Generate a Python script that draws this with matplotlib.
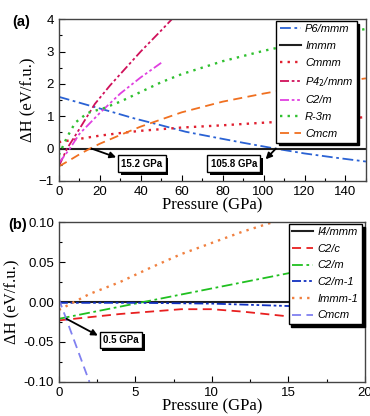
import matplotlib
matplotlib.use("Agg")
import matplotlib.pyplot as plt
from matplotlib.ticker import MultipleLocator
import matplotlib.patheffects as pe

plt.rcParams['font.family'] = ['Liberation Sans', 'DejaVu Sans']
plt.rcParams['mathtext.default'] = 'it'

# ---- panel (a) data ----
p_p6 = [0, 12.7, 25, 37, 50, 62, 75, 90, 105.8, 120, 135, 150]
h_p6 = [1.6, 1.37, 1.15, 0.93, 0.72, 0.52, 0.36, 0.18, 0.0, -0.15, -0.28, -0.4]
p_immm = [0, 150]
h_immm = [0, 0]
p_cmmm = [0, 10, 20, 30, 40, 50, 60, 80, 100, 120, 150]
h_cmmm = [0.2, 0.3, 0.4, 0.48, 0.55, 0.6, 0.65, 0.72, 0.8, 0.87, 0.97]
p_p42 = [0, 4, 10, 17.6, 25, 30, 40, 50, 56]
h_p42 = [-0.55, 0, 0.6, 1.38, 1.95, 2.3, 3.0, 3.65, 4.05]
p_c2m = [0, 5.4, 10, 20, 30, 40, 50]
h_c2m = [-0.45, 0, 0.45, 1.1, 1.7, 2.2, 2.65]
p_r3m = [0, 4, 8, 14, 22, 30, 40, 50, 60, 80, 100, 120, 150]
h_r3m = [-0.2, 0.35, 0.8, 1.1, 1.25, 1.45, 1.75, 2.05, 2.3, 2.7, 3.02, 3.3, 3.7]
p_cmcm = [0, 5, 10, 15.2, 20, 30, 40, 60, 80, 100, 120, 150]
h_cmcm = [-0.55, -0.37, -0.18, 0, 0.15, 0.42, 0.68, 1.12, 1.45, 1.7, 1.93, 2.17]

# ---- panel (b) data ----
q_i4 = [0, 20]
g_i4 = [0, 0]
q_c2c = [0, 2, 4, 6, 8, 10, 12, 14, 16, 18, 20]
g_c2c = [-0.023, -0.019, -0.015, -0.012, -0.009, -0.009, -0.012, -0.016, -0.02, -0.024, -0.027]
q_c2m = [0, 5, 10, 15, 20]
g_c2m = [-0.021, -0.002, 0.017, 0.036, 0.055]
q_c2m1 = [0, 5, 10, 15, 20]
g_c2m1 = [-0.001, -0.001, -0.002, -0.005, -0.007]
q_immm1 = [0, 1, 2, 4, 6, 8, 10, 12, 14, 16]
g_immm1 = [-0.01, 0.0, 0.01, 0.025, 0.043, 0.06, 0.074, 0.088, 0.1, 0.112]
q_cmcm = [0, 1, 2]
g_cmcm = [0.004, -0.048, -0.1]

dashdot = (0, (6, 2, 1.5, 2))
dashdotdot = (0, (5, 1.5, 1.5, 1.5, 1.5, 1.5))
dotted = (0, (1, 2.2))
dashed = (0, (5, 3))

fig = plt.figure(figsize=(3.7, 4.16), dpi=100)
ax1 = fig.add_axes([0.159, 0.565, 0.83, 0.389])
ax2 = fig.add_axes([0.159, 0.082, 0.827, 0.384])

lw = 1.3
ax1.plot(p_p6, h_p6, color='#2a62d4', ls=dashdot, lw=lw, label='P6/mmm')
ax1.plot(p_immm, h_immm, color='#202020', ls='-', lw=1.5, label='Immm')
ax1.plot(p_cmmm, h_cmmm, color='#e02030', ls=dotted, lw=1.7, label='Cmmm')
ax1.plot(p_p42, h_p42, color='#d0105a', ls=dashdotdot, lw=lw, label='P4$_2$/mnm')
ax1.plot(p_c2m, h_c2m, color='#e040e0', ls=dashdotdot, lw=lw, label='C2/m')
ax1.plot(p_r3m, h_r3m, color='#30c030', ls=dotted, lw=1.7, label='R-3m')
ax1.plot(p_cmcm, h_cmcm, color='#f07020', ls=dashed, lw=lw, label='Cmcm')

ax2.plot(q_i4, g_i4, color='#202020', ls='-', lw=1.5, label='I4/mmm')
ax2.plot(q_c2c, g_c2c, color='#e82020', ls=dashed, lw=lw, label='C2/c')
ax2.plot(q_c2m, g_c2m, color='#20c020', ls=dashdot, lw=lw, label='C2/m')
ax2.plot(q_c2m1, g_c2m1, color='#1030c0', ls=dashdotdot, lw=lw, label='C2/m-1')
ax2.plot(q_immm1, g_immm1, color='#f08040', ls=dotted, lw=1.7, label='Immm-1')
ax2.plot(q_cmcm, g_cmcm, color='#8080f0', ls=dashed, lw=lw, label='Cmcm')

ax1.set_xlim(0, 150)
ax1.set_ylim(-1, 4)
ax1.xaxis.set_major_locator(MultipleLocator(20))
ax1.xaxis.set_minor_locator(MultipleLocator(10))
ax1.yaxis.set_major_locator(MultipleLocator(1))
ax1.yaxis.set_minor_locator(MultipleLocator(0.5))

ax2.set_xlim(0, 20)
ax2.set_ylim(-0.1, 0.1)
ax2.xaxis.set_major_locator(MultipleLocator(5))
ax2.xaxis.set_minor_locator(MultipleLocator(2.5))
ax2.yaxis.set_major_locator(MultipleLocator(0.05))
ax2.yaxis.set_minor_locator(MultipleLocator(0.025))
ax2.yaxis.set_major_formatter(plt.FormatStrFormatter('%.2f'))

for ax in (ax1, ax2):
    ax.tick_params(which='both', direction='in', labelsize=9.5, width=0.8)
    ax.tick_params(which='major', length=4)
    ax.tick_params(which='minor', length=2.5)
    for s in ax.spines.values():
        s.set_linewidth(1.0)
        s.set_color('#444444')
    ax.set_xlabel('Pressure (GPa)', family='Liberation Serif', fontsize=12, labelpad=0)
    ax.set_ylabel('ΔH (eV/f.u.)', family='Liberation Serif', fontsize=12, labelpad=2)

leg_kw = dict(prop={'style': 'italic', 'size': 8}, frameon=True, fancybox=False,
              edgecolor='black', framealpha=1, shadow={'color': 'black', 'alpha': 1.0},
              handlelength=1.9, borderpad=0.3, handletextpad=0.4, borderaxespad=0)
leg1 = ax1.legend(loc='upper right', bbox_to_anchor=(0.97, 0.99), labelspacing=0.62, **leg_kw)
leg2 = ax2.legend(loc='upper right', bbox_to_anchor=(0.99, 0.99), labelspacing=0.6, **leg_kw)

shadow = [pe.withSimplePatchShadow(offset=(2, -2), shadow_rgbFace='black', alpha=1.0)]
box = dict(boxstyle='square,pad=0.35', fc='white', ec='black', lw=1.0)
arrow = dict(arrowstyle='-|>', color='black', lw=1.3, mutation_scale=9, shrinkA=0, shrinkB=0)

for ax, txt, xy, xytext, xybox in [
        (ax1, '15.2 GPa', (16, 0), (28, -0.27), (40.5, -0.47)),
        (ax1, '105.8 GPa', (106, 0), (101, -0.33), (85.5, -0.47)),
        (ax2, '0.5 GPa', (0.5, -0.021), (2.55, -0.042), (4.05, -0.0475))]:
    ax.annotate('', xy=xytext, xytext=xy, arrowprops=arrow)
    t = ax.text(xybox[0], xybox[1], txt, fontsize=7, fontweight='bold',
                ha='center', va='center', bbox=box, zorder=5)
    t.get_bbox_patch().set_path_effects(shadow)

fig.text(0.058, 0.947, '(a)', fontsize=10.5, fontweight='bold', ha='center', va='center')
fig.text(0.048, 0.459, '(b)', fontsize=10.5, fontweight='bold', ha='center', va='center')

fig.savefig('out.png', dpi=100)
